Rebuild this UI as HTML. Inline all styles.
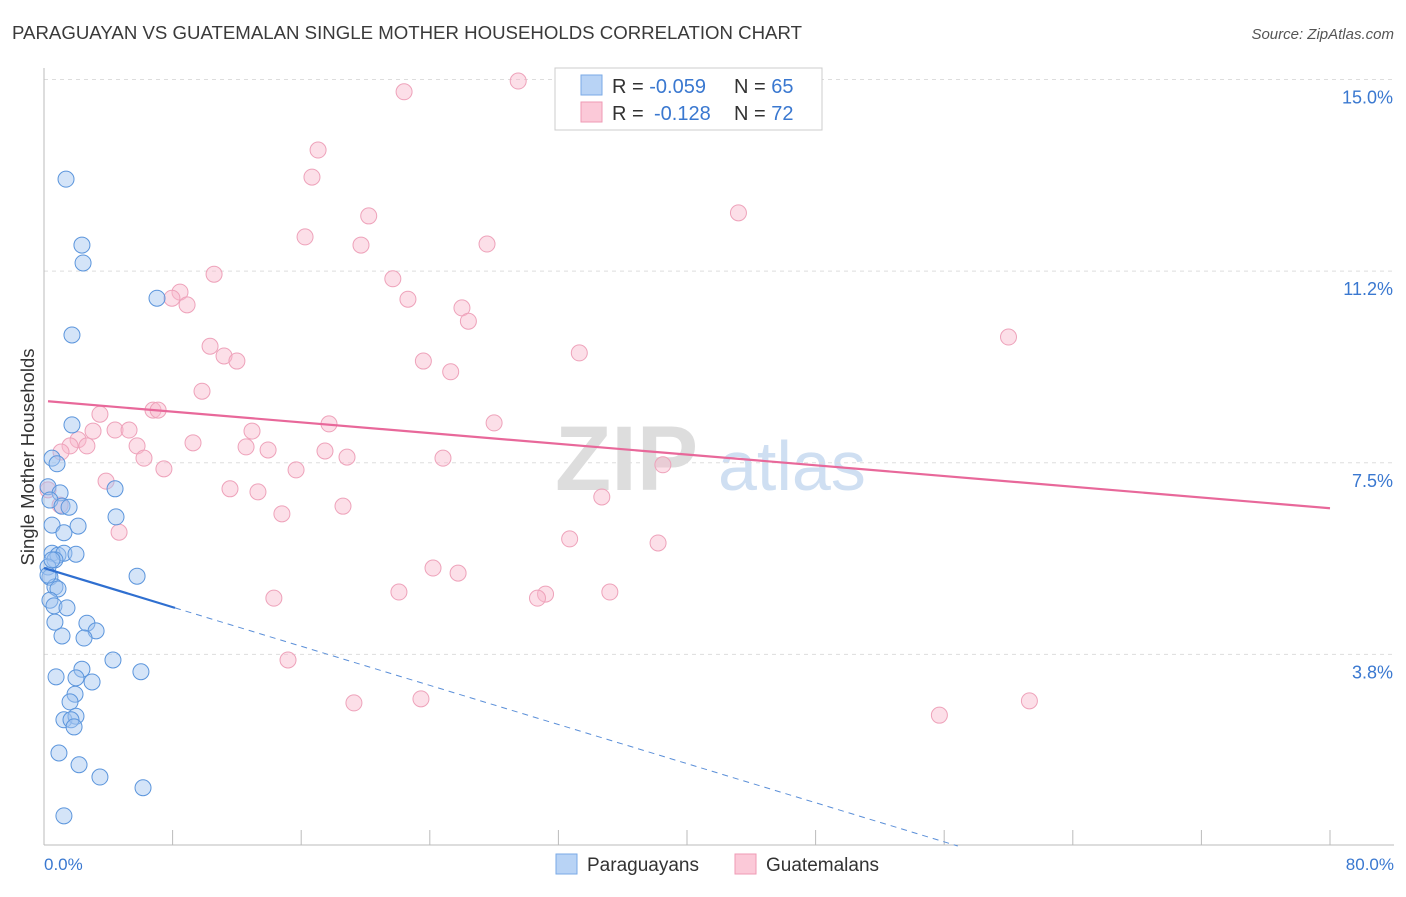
<!DOCTYPE html>
<html><head><meta charset="utf-8"><style>
body{margin:0;background:#fff;font-family:"Liberation Sans",sans-serif;}
svg text{font-family:"Liberation Sans",sans-serif;}
</style></head><body>
<svg id="chart" width="1406" height="892" xmlns="http://www.w3.org/2000/svg">
<text x="12" y="39" font-size="18" fill="#3a3a3a" textLength="790" lengthAdjust="spacingAndGlyphs">PARAGUAYAN VS GUATEMALAN SINGLE MOTHER HOUSEHOLDS CORRELATION CHART</text>
<text x="1394" y="39" font-size="15" fill="#555" text-anchor="end" font-style="italic">Source: ZipAtlas.com</text>
<g>
<text x="555" y="490" font-size="92" font-family="Liberation Serif" fill="#ddd" font-weight="bold">ZIP</text>
<text x="718" y="490" font-size="70" fill="#cfdff2">atlas</text>
</g>
<g id="grid"></g>
<line x1="44" y1="68" x2="44" y2="845" stroke="#bbb"/>
<line x1="44" y1="845" x2="1394" y2="845" stroke="#bbb"/>
<g id="xticks"></g>
<text transform="translate(34,457) rotate(-90)" font-size="18.5" fill="#333" text-anchor="middle">Single Mother Households</text>
<text x="44" y="870" font-size="17" fill="#3a78d0">0.0%</text>
<text x="1394" y="870" font-size="17" fill="#3a78d0" text-anchor="end">80.0%</text>
<g id="marks"></g>
<g>
<rect x="555" y="68" width="267" height="62" fill="#fff" stroke="#ccc"/>
<rect x="581" y="75" width="21" height="20" fill="#b8d3f5" stroke="#7aaae6"/>
<rect x="581" y="102" width="21" height="20" fill="#fbc9d8" stroke="#ef9ab4"/>
<text x="612" y="93" font-size="20" fill="#333">R = <tspan fill="#3a78d0">-0.059</tspan><tspan x="734">N = </tspan><tspan fill="#3a78d0">65</tspan></text>
<text x="612" y="120" font-size="20" fill="#333">R = <tspan fill="#3a78d0" x="654">-0.128</tspan><tspan x="734">N = </tspan><tspan fill="#3a78d0">72</tspan></text>
</g>
<g>
<rect x="556" y="854" width="21" height="20" fill="#b8d3f5" stroke="#7aaae6"/>
<text x="587" y="871" font-size="19" fill="#333">Paraguayans</text>
<rect x="735" y="854" width="21" height="20" fill="#fbc9d8" stroke="#ef9ab4"/>
<text x="766" y="871" font-size="19" fill="#333">Guatemalans</text>
</g>
</svg>
<script>
const yTicks=[15.0,11.2,7.5,3.8];
const yTickPos=[15,11.25,7.5,3.75];
const xTickVals=[8,16,24,32,40,48,56,64,72,80];
const paraX=[1.37,2.36,2.43,7.03,1.74,1.74,0.5,0.81,4.42,0.25,1.0,0.37,1.12,1.56,4.48,0.5,2.12,1.24,0.5,0.87,1.24,1.99,0.68,0.25,0.37,5.79,0.68,0.87,0.37,0.62,1.43,0.68,2.67,3.24,1.12,2.49,4.29,2.36,0.75,1.99,2.99,6.03,1.93,1.62,1.24,1.99,1.68,1.87,0.93,2.18,3.48,6.16,1.24,0.25,0.5];
const paraY=[13.05,11.76,11.41,10.72,10.0,8.24,7.59,7.48,6.99,7.03,6.91,6.77,6.65,6.63,6.44,6.28,6.26,6.13,5.73,5.69,5.73,5.71,5.6,5.46,5.26,5.28,5.07,5.03,4.81,4.70,4.66,4.38,4.36,4.21,4.11,4.07,3.64,3.46,3.31,3.29,3.21,3.41,2.97,2.82,2.47,2.54,2.47,2.33,1.82,1.59,1.35,1.14,0.59,5.3,5.6];
const guatX=[29.5,22.4,17.05,16.67,20.2,43.2,16.24,19.72,27.56,10.58,21.7,8.46,7.96,8.9,22.64,26.0,26.4,60.0,10.33,11.2,12.0,23.6,33.3,25.3,9.83,6.78,7.1,3.48,17.73,28.0,3.05,4.42,5.29,12.94,2.12,1.62,2.67,5.79,9.27,12.57,13.94,17.48,1.06,6.22,18.85,24.82,7.46,15.68,38.5,3.86,11.57,13.31,34.7,18.6,14.8,4.67,32.7,38.2,24.2,25.76,22.08,31.2,30.7,35.2,14.3,15.18,19.28,23.45,55.7,61.3,0.25,1.0];
const guatY=[14.97,14.76,13.62,13.09,12.33,12.39,11.92,11.76,11.78,11.19,11.1,10.84,10.72,10.59,10.7,10.53,10.27,9.96,9.78,9.59,9.49,9.49,9.65,9.28,8.90,8.53,8.53,8.45,8.26,8.28,8.12,8.14,8.14,8.12,7.95,7.83,7.83,7.83,7.89,7.81,7.75,7.73,7.71,7.59,7.61,7.59,7.38,7.36,7.46,7.14,6.99,6.93,6.83,6.65,6.5,6.14,6.01,5.93,5.44,5.34,4.97,4.93,4.85,4.97,4.85,3.64,2.80,2.88,2.56,2.84,6.97,6.67];
const paraTrend=[5.44,-0.0957];
const guatTrend=[8.71,-0.02625];
const paraSolidEnd=8.15;
const xs=v=>44+v*16.075, ys=v=>846-v*51.1;
const NS='http://www.w3.org/2000/svg';
function mk(t,a,p){const e=document.createElementNS(NS,t);for(const k in a)e.setAttribute(k,a[k]);p.appendChild(e);return e;}
const grid=document.getElementById('grid');
yTicks.forEach((t,i)=>{const y=ys(yTickPos[i]);
const l=mk('line',{x1:44,x2:1394,y1:y,y2:y,stroke:'#ddd','stroke-dasharray':'4,4'},grid);


const tx=mk('text',{x:1393,y:y+24,'font-size':18,fill:'#3a78d0','text-anchor':'end'},grid);tx.textContent=t.toFixed(1)+'%';

});
const xt=document.getElementById('xticks');
xTickVals.forEach(v=>{const l=mk('line',{x1:xs(v),x2:xs(v),y1:830,y2:845,stroke:'#bbb'},xt);

});
const m=document.getElementById('marks');
guatX.forEach((x,i)=>{const c=mk('circle',{cx:xs(x),cy:ys(guatY[i]),r:8,fill:'rgba(248,183,203,0.45)',stroke:'#eea2ba','stroke-width':1},m);

});
paraX.forEach((x,i)=>{const c=mk('circle',{cx:xs(x),cy:ys(paraY[i]),r:8,fill:'rgba(160,196,240,0.45)',stroke:'#5b95dc','stroke-width':1},m);

});
const gl=mk('line',{x1:xs(0.25),y1:ys(guatTrend[0]+guatTrend[1]*0.25),x2:xs(80),y2:ys(guatTrend[0]+guatTrend[1]*80),stroke:'#e8689a','stroke-width':2.2},m);


const pl=mk('line',{x1:xs(0),y1:ys(paraTrend[0]),x2:xs(paraSolidEnd),y2:ys(paraTrend[0]+paraTrend[1]*paraSolidEnd),stroke:'#2f6fd0','stroke-width':2.2},m);


const xEnd=-paraTrend[0]/paraTrend[1];
const pd=mk('line',{x1:xs(paraSolidEnd),y1:ys(paraTrend[0]+paraTrend[1]*paraSolidEnd),x2:xs(xEnd),y2:ys(0),stroke:'#5b8fd8','stroke-width':1,'stroke-dasharray':'6,5'},m);


</script>
</body></html>
